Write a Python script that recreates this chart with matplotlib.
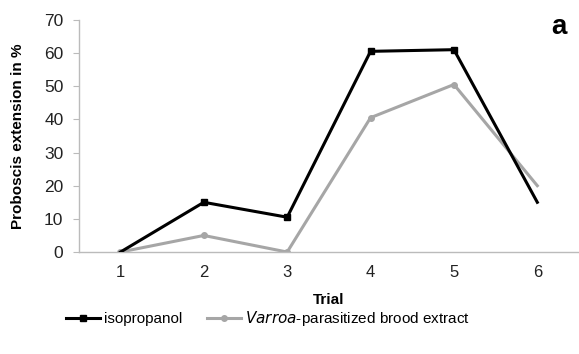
import matplotlib
matplotlib.use("Agg")
import matplotlib.pyplot as plt

trials = [1, 2, 3, 4, 5, 6]
isopropanol = [0, 15, 10.5, 60.5, 61, 15]
varroa = [0, 5, 0, 40.5, 50.5, 20]
yticks = [0, 10, 20, 30, 40, 50, 60, 70]

plt.rcParams["font.family"] = ["Liberation Sans", "DejaVu Sans"]

fig = plt.figure(figsize=(5.79, 3.54), dpi=100)
ax = fig.add_axes([0.136, 0.288, 0.864, 0.656])

# Excel-style: end points drawn without visible markers
ax.plot(trials, isopropanol, "-s", color="black", lw=2.2, ms=4.5,
        markevery=[1, 2, 3, 4], label="isopropanol", zorder=3)
ax.plot(trials, varroa, "-o", color="#a6a6a6", lw=2.2, ms=4,
        markevery=[0, 1, 2, 3, 4],
        label=r"$\it{Varroa}$-parasitized brood extract", zorder=2)

ax.set_xlim(0.5, 6.5)
ax.set_ylim(0, 70)
ax.set_xticks(trials)
ax.set_yticks(yticks)
ax.tick_params(axis="x", length=0, labelsize=12, pad=9)
ax.tick_params(axis="y", length=4, color="#bbbbbb", labelsize=12.5, pad=7)
for s in ["top", "right"]:
    ax.spines[s].set_visible(False)
for s in ["left", "bottom"]:
    ax.spines[s].set_color("#bbbbbb")
    ax.spines[s].set_linewidth(1)
for lbl in ax.get_xticklabels() + ax.get_yticklabels():
    lbl.set_color("#222222")

ax.set_xlabel("Trial", fontsize=11, fontweight="bold", labelpad=10)
ax.set_ylabel("Proboscis extension in %", fontsize=11, fontweight="bold", labelpad=14)
fig.text(0.978, 0.924, "a", fontsize=20, fontweight="bold", ha="right", va="center")

fig.legend(loc="center", bbox_to_anchor=(0.463, 0.1), ncol=2, frameon=False,
           fontsize=11, handlelength=2.2, columnspacing=1.6, handletextpad=0.3)

fig.savefig("out.png", dpi=100)
